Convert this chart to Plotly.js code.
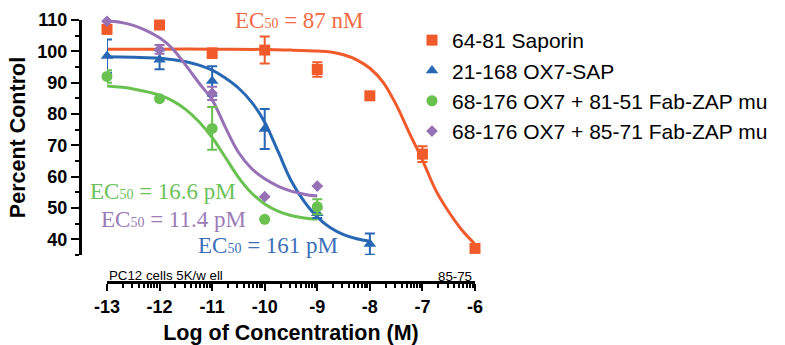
<!DOCTYPE html>
<html><head><meta charset="utf-8">
<script src="https://cdn.plot.ly/plotly-3.0.1.min.js"></script>
<style>html,body{margin:0;padding:0;background:#fff}#chart{width:785px;height:345px}</style>
</head><body><div id="chart"></div>
<script>
// ---- data ----
const seriesNames = ['64-81 Saporin', '21-168 OX7-SAP', '68-176 OX7 + 81-51 Fab-ZAP mu', '68-176 OX7 + 85-71 Fab-ZAP mu'];
const ec50Labels = ['87 nM', '161 pM', '16.6 pM', '11.4 pM'];

const saporinX = [-13, -12, -11, -10, -9, -8, -7, -6];
const saporinY = [107.0, 108.4, 99.4, 100.4, 94.2, 85.8, 67.2, 37.1];
const saporinErr = [0, 0, 1.5, 4.3, 2.3, 0, 2.5, 0];

const ox7SapX = [-13, -12, -11, -10, -9, -8];
const ox7SapY = [98.5, 97.3, 90.5, 75.2, 48.3, 38.5];
const ox7SapErr = [5.3, 3.0, 4.7, 6.4, 1.5, 3.4];

const fab8151X = [-13, -12, -11, -10, -9];
const fab8151Y = [92.0, 84.9, 75.4, 46.4, 50.4];
const fab8151Err = [2.0, 0, 6.8, 0, 2.4];

const fab8571X = [-13, -12, -11, -10, -9];
const fab8571Y = [109.6, 100.6, 86.6, 53.6, 57.0];
const fab8571Err = [0, 1.4, 2.1, 0, 0];

// fitted curves, points
const saporinFitX = [-13, -12, -11, -10, -9.5, -9, -8.75, -8.5, -8.25, -8, -7.75, -7.5, -7.25, -7, -6.75, -6.5, -6.25, -6];
const saporinFitY = [100.7, 100.7, 100.7, 100.6, 100.4, 100.1, 99.8, 98.9, 97.3, 94.6, 90.2, 83.0, 74.0, 65.3, 55.8, 48.8, 43.0, 38.5];

const ox7SapFitX = [-13, -12.5, -12, -11.5, -11.25, -11, -10.75, -10.5, -10.25, -10, -9.75, -9.5, -9.25, -9, -8.75, -8.5, -8.25, -8];
const ox7SapFitY = [98.3, 98.1, 97.8, 96.7, 95.6, 94.0, 91.5, 88.3, 83.8, 77.4, 68.2, 58.8, 52.1, 47.1, 43.7, 41.5, 40.2, 39.4];

const fab8151FitX = [-13, -12.5, -12, -11.75, -11.5, -11.25, -11, -10.75, -10.5, -10.25, -10, -9.75, -9.5, -9.25, -9];
const fab8151FitY = [88.9, 88.0, 86.0, 84.2, 81.4, 77.5, 72.5, 66.2, 59.8, 54.8, 51.3, 49.0, 47.6, 46.8, 46.4];

const fab8571FitX = [-13, -12.75, -12.5, -12.25, -12, -11.75, -11.5, -11.25, -11, -10.75, -10.5, -10.25, -10, -9.75, -9.5, -9.25, -9];
const fab8571FitY = [109.7, 109.3, 108.3, 106.6, 104.3, 100.8, 95.5, 89.9, 84.5, 75.8, 67.8, 62.6, 59.3, 57.0, 55.4, 54.4, 53.8];

const xTickVals = [-13, -12, -11, -10, -9, -8, -7, -6];
const xTickText = ['-13', '-12', '-11', '-10', '-9', '-8', '-7', '-6'];
const decadeOffsets = [0.301, 0.477, 0.602, 0.699, 0.778, 0.845, 0.903, 0.954];
const yTickVals = [40, 50, 60, 70, 80, 90, 100, 110];
const yMinorVals = [35, 45, 55, 65, 75, 85, 95, 105];

// ---- styling ----
const colors = ['#F15A2B', '#2767B3', '#69C150', '#9671B5'];
const textColors = ['#F26A45', '#3B70B9', '#6CC25A', '#9B7BB8'];
const symbols = ['square', 'triangle-up', 'circle', 'diamond'];
const sizes = [11, 11, 11, 9];

const xMinorVals = [];
xTickVals.slice(0, -1).forEach(d => decadeOffsets.forEach(o => xMinorVals.push(d + o)));

const fits = [[saporinFitX, saporinFitY], [ox7SapFitX, ox7SapFitY], [fab8151FitX, fab8151FitY], [fab8571FitX, fab8571FitY]];
const pts = [[saporinX, saporinY, saporinErr], [ox7SapX, ox7SapY, ox7SapErr], [fab8151X, fab8151Y, fab8151Err], [fab8571X, fab8571Y, fab8571Err]];

const traces = [];
const lineOrder = [1, 2, 0, 3];
lineOrder.forEach(i => {
  traces.push({
    x: fits[i][0], y: fits[i][1], mode: 'lines', type: 'scatter',
    line: {color: colors[i], width: 3, shape: 'spline', smoothing: 1},
    showlegend: false, hoverinfo: 'skip', cliponaxis: false
  });
});
[0, 1, 2, 3].forEach(i => {
  traces.push({
    x: pts[i][0], y: pts[i][1], name: seriesNames[i], mode: 'markers', type: 'scatter',
    marker: {color: colors[i], symbol: symbols[i], size: sizes[i], line: {width: 0}},
    error_y: {type: 'data', array: pts[i][2], visible: true, color: colors[i], thickness: 2, width: 5},
    cliponaxis: false
  });
});

const PLOT_L = 80, PLOT_W = 395, PLOT_B = 282, PLOT_H = 262;
const px = v => (v - PLOT_L) / PLOT_W;
const py = v => (PLOT_B - v) / PLOT_H;
const serif = 'Liberation Serif, Times New Roman, serif';
const ec = (t) => 'EC<span style="font-size:14px">50</span> = ' + t;

const annotations = [
  {x: px(299.5), y: py(20), text: ec(ec50Labels[0]), color: textColors[0]},
  {x: px(267.5), y: py(245), text: ec(ec50Labels[1]), color: textColors[1]},
  {x: px(162.5), y: py(191.7), text: ec(ec50Labels[2]), color: textColors[2]},
  {x: px(173), y: py(219), text: ec(ec50Labels[3]), color: textColors[3]}
].map(a => ({x: a.x, y: a.y, xref: 'paper', yref: 'paper', text: a.text, showarrow: false,
  xanchor: 'center', yanchor: 'middle', font: {family: serif, size: 23, color: a.color}}));

const sans = 'Liberation Sans, Arial, sans-serif';
annotations.push({x: px(107), y: py(275.5), xref: 'paper', yref: 'paper', text: 'PC12 cells 5K/w ell',
  showarrow: false, xanchor: 'left', yanchor: 'middle', font: {family: sans, size: 13.3, color: '#000'}});
annotations.push({x: px(474), y: py(276), xref: 'paper', yref: 'paper', text: '85-75',
  showarrow: false, xanchor: 'right', yanchor: 'middle', font: {family: sans, size: 13.3, color: '#000'}});

const layout = {
  width: 785, height: 345,
  margin: {l: PLOT_L, r: 785 - PLOT_L - PLOT_W, t: 20, b: 345 - PLOT_B},
  paper_bgcolor: '#fff', plot_bgcolor: 'rgba(0,0,0,0)',
  showlegend: true,
  legend: {x: px(412), y: py(20), xanchor: 'left', yanchor: 'top', bgcolor: 'rgba(0,0,0,0)',
    font: {family: sans, size: 21, color: '#000'}, itemclick: false},
  xaxis: {
    domain: [px(107), 1], range: [-13, -6], anchor: 'free', position: 0,
    showline: true, linewidth: 3, linecolor: '#000', showgrid: false, zeroline: false,
    ticks: 'outside', ticklen: 7, tickwidth: 2, tickcolor: '#000',
    tickmode: 'array', tickvals: xTickVals, ticktext: xTickText,
    tickfont: {family: sans, size: 18, color: '#000', weight: 'bold'},
    minor: {tickmode: 'array', tickvals: xMinorVals, ticks: 'outside', ticklen: 4, tickwidth: 2, tickcolor: '#000', showgrid: false},
    title: {text: 'Log of Concentration (M)', font: {family: sans, size: 21.5, color: '#000', weight: 'bold'}}
  },
  yaxis: {
    domain: [py(255), 1], range: [35, 110], anchor: 'free', position: 0,
    showline: true, linewidth: 3, linecolor: '#000', showgrid: false, zeroline: false,
    ticks: 'outside', ticklen: 8, tickwidth: 2, tickcolor: '#000',
    tickmode: 'array', tickvals: yTickVals,
    tickfont: {family: sans, size: 18, color: '#000', weight: 'bold'},
    minor: {tickmode: 'array', tickvals: yMinorVals, ticks: 'outside', ticklen: 4, tickwidth: 2, tickcolor: '#000', showgrid: false},
    title: {text: 'Percent Control', font: {family: sans, size: 21.5, color: '#000', weight: 'bold'}}
  },
  annotations: annotations
};

Plotly.newPlot('chart', traces, layout, {staticPlot: true, displayModeBar: false});
</script>
</body></html>
